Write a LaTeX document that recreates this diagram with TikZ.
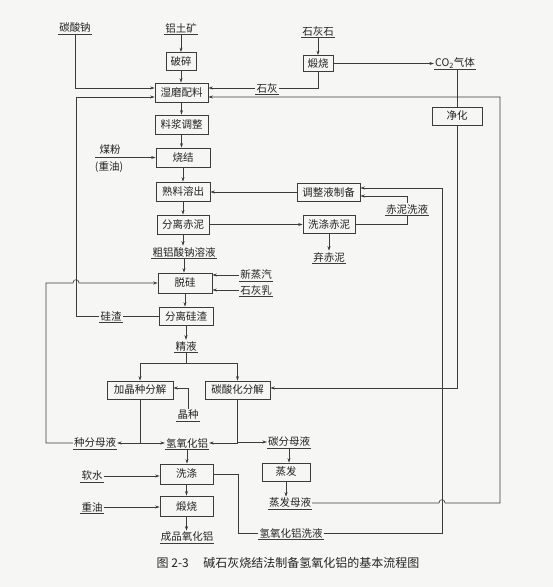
\documentclass[tikz,border=0pt]{standalone}
\usepackage{fontspec}
\setmainfont{Noto Sans CJK SC}
\usetikzlibrary{arrows.meta}
\definecolor{bgc}{RGB}{246,246,244}
\definecolor{linec}{RGB}{60,60,60}
\definecolor{txtc}{RGB}{35,35,35}
\begin{document}
\begin{tikzpicture}[x=1pt,y=-1pt,
  font=\fontsize{10.5}{12}\selectfont, text=txtc,
  box/.style={draw=linec, line width=0.7pt, minimum height=19pt, inner xsep=2pt, inner ysep=0pt},
  ul/.style={inner xsep=1pt, inner ysep=1.2pt,
    append after command={(\tikzlastnode.south west) edge[-,draw=linec,line width=0.7pt] (\tikzlastnode.south east)}},
  ln/.style={draw=linec, line width=0.6pt},
  arr/.style={draw=linec, line width=0.6pt, -{Stealth[length=4.5pt,width=3pt]}}]
\fill[bgc] (0,0) rectangle (553,587);
\useasboundingbox (0,0) rectangle (553,587);

% top inputs
\node[ul] (tsn) at (75,28) {碳酸钠};
\node[ul] (ltk) at (181,28) {铝土矿};
\node[ul] (shs) at (318,31) {石灰石};
\node[box,minimum width=30pt,minimum height=18pt] (posui) at (181,61.5) {破碎};
\node[box,minimum width=30pt,minimum height=16pt] (dsh) at (318,63.5) {煅烧};
\node[ul] (co2) at (455,63) {CO\textsubscript{2}气体};
\node[box,minimum width=53pt] (shimo) at (181.5,92.5) {湿磨配料};
\node[ul] (shihui) at (267,88) {石灰};
\node[box,minimum width=50pt,minimum height=18pt] (jinghua) at (457,116) {净化};
\node[box,minimum width=53pt] (liaojiang) at (181.5,124.5) {料浆调整};
\node[box,minimum width=54pt] (shaojie) at (183,157.5) {烧结};
\node (meifen) at (110,150) {煤粉};
\node (zy1) at (109,167) {(重油)};
\coordinate (mfl) at (95,157.5);
\node[box,minimum width=54pt] (shuliao) at (183,191.5) {熟料溶出};
\node[box,minimum width=63pt,minimum height=18pt] (tiaozheng) at (328.5,192) {调整液制备};
\node[box,minimum width=52pt] (fenli) at (183,224.5) {分离赤泥};
\node[box,minimum width=52pt,minimum height=18pt] (xidi) at (329,224.5) {洗涤赤泥};
\node[ul] (chinixiye) at (407,209) {赤泥洗液};
\node[ul] (qichini) at (329,257) {弃赤泥};
\node[ul] (cu) at (184,252) {粗铝酸钠溶液};
\node[box,minimum width=54pt,minimum height=20pt] (tuogui) at (185,283) {脱硅};
\node[ul] (xzq) at (256,275) {新蒸汽};
\node[ul] (shr) at (256,290) {石灰乳};
\node[box,minimum width=54pt,minimum height=18pt] (fenligz) at (186,316) {分离硅渣};
\node[ul] (guizha) at (111,316) {硅渣};
\node[ul] (jingye) at (186,346) {精液};
\node[box,minimum width=66pt,minimum height=18pt] (jiajing) at (140,390) {加晶种分解};
\node[box,minimum width=65pt,minimum height=18pt] (tsh) at (237.5,390) {碳酸化分解};
\node[ul] (jingzhong) at (188,415) {晶种};
\node[ul] (zfmy) at (95,443) {种分母液};
\node[ul] (qyhl) at (187,443) {氢氧化铝};
\node[ul] (tfmy) at (289,442) {碳分母液};
\node[box,minimum width=53pt,minimum height=20pt] (xidi2) at (186.5,474) {洗涤};
\node[box,minimum width=48pt,minimum height=18pt] (zhengfa) at (286,472) {蒸发};
\node[ul] (ruanshui) at (92,476) {软水};
\node[ul] (zhengfamy) at (290,503) {蒸发母液};
\node[box,minimum width=53pt,minimum height=20pt] (ds2) at (186.5,506) {煅烧};
\node[ul] (zy2) at (92,507) {重油};
\node[ul] (chengpin) at (187,537) {成品氧化铝};
\node[ul] (qyhlxy) at (291,533) {氢氧化铝洗液};
\node[font=\fontsize{12}{14}\selectfont] (cap) at (288,563) {图 2-3\hspace{1.2em}碱石灰烧结法制备氢氧化铝的基本流程图};

% main chain
\draw[arr] (ltk.south) -- (posui.north);
\draw[arr] (posui.south) -- (posui.south |- shimo.north);
\draw[arr] (shimo.south) -- (liaojiang.north);
\draw[arr] (liaojiang.south) -- (liaojiang.south |- shaojie.north);
\draw[arr] (shaojie.south) -- (shuliao.north);
\draw[arr] (shuliao.south) -- (fenli.north);
\draw[arr] (fenli.south) -- (fenli.south |- cu.north);
\draw[arr] (cu.south) -- (cu.south |- tuogui.north);
\draw[arr] (tuogui.south) -- (tuogui.south |- fenligz.north);
\draw[arr] (fenligz.south) -- (jingye.north);

% top side
\draw[arr] (shs.south) -- (dsh.north);
\draw[arr] (dsh.east) -- (dsh.east -| co2.west);
\draw[arr] (tsn.south) |- ([yshift=4.5pt]shimo.west);
\draw[ln] (dsh.south) |- (shihui.east);
\draw[arr] (shihui.west) -- ([yshift=4.5pt]shimo.east);
\draw[ln] (jinghua.north |- co2.south) -- (jinghua.north);
\draw[arr] (jinghua.south) |- ([yshift=2pt]tsh.east);
\draw[arr] (mfl) -- (shaojie.west);

% red mud
\draw[arr] (tiaozheng.west) -- (tiaozheng.west -| shuliao.east);
\draw[arr] (fenli.east) -- (fenli.east -| xidi.west);
\draw[arr] (xidi.south) -- (xidi.south |- qichini.north);
\draw[ln] (xidi.east) -| (chinixiye.south);
\draw[arr] (chinixiye.north) |- ([yshift=-4pt]tiaozheng.east);

% desilication
\draw[arr] (xzq.west) -- (xzq.west -| tuogui.east);
\draw[arr] (shr.west) -- (shr.west -| tuogui.east);
\draw[ln] (fenligz.west) -- (fenligz.west -| guizha.east);
\draw[arr] (guizha.west) -- (76,316) |- ([yshift=-4.5pt]shimo.west);
\draw[arr] (zfmy.west) -- (46,443) -- (46,283) -- (73,283) .. controls (73,278.5) and (79,278.5) .. (79,283) -- (tuogui.west);

% decomposition
\coordinate (split) at (186,363);
\draw[ln] (jingye.south) -- (split);
\draw[arr] (split) -| (jiajing.north);
\draw[arr] (split) -| (tsh.north);
\draw[arr] (jiajing.south) |- (zfmy.east);
\draw[arr] (jiajing.south) |- (qyhl.west);
\draw[arr] (tsh.south) |- (qyhl.east);
\draw[arr] (tsh.south) |- (tfmy.west);
\draw[arr] (jingzhong.north) |- ([yshift=2pt]jiajing.east);

% product
\draw[arr] (qyhl.south) -- (qyhl.south |- xidi2.north);
\draw[arr] (xidi2.south) -- (ds2.north);
\draw[arr] (ds2.south) -- (ds2.south |- chengpin.north);
\draw[arr] (ruanshui.east) -- (ruanshui.east -| xidi2.west);
\draw[arr] (zy2.east) -- (zy2.east -| ds2.west);
\draw[ln] (xidi2.east) -- (238,474) |- (qyhlxy.west);
\draw[arr] (tfmy.south) -- (tfmy.south |- zhengfa.north);
\draw[arr] (zhengfa.south) -- (zhengfa.south |- zhengfamy.north);

% long returns
\draw[arr] (qyhlxy.east) -- (442,533) -- (442,188) -- ([yshift=4pt]tiaozheng.east);
\draw[arr] (zhengfamy.east) -- (439,503) .. controls (439,498.5) and (445,498.5) .. (445,503) -- (500,503) -- (500,97) -- ([yshift=-4.5pt]shimo.east);
\end{tikzpicture}
\end{document}
